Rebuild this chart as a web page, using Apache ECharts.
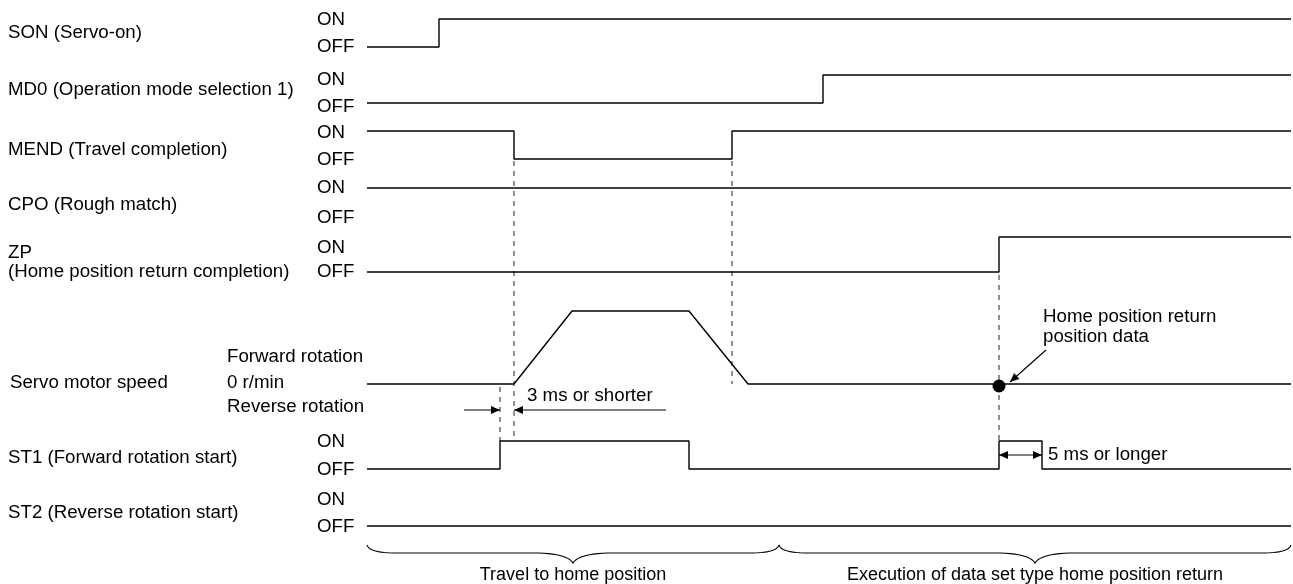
<!DOCTYPE html>
<html><head><meta charset="utf-8">
<script src="https://cdn.jsdelivr.net/npm/echarts@6/dist/echarts.min.js"></script>
<style>html,body{margin:0;padding:0;background:#fff}#c{width:1293px;height:584px}</style>
</head><body><div id="c"></div>
<script>
// ---- data (time in arbitrary units along the timeline, level 0 = OFF / 1 = ON) ----
const T_END = 924;
const rowNames = ['SON (Servo-on)', 'MD0 (Operation mode selection 1)', 'MEND (Travel completion)',
  'CPO (Rough match)', 'ZP\n(Home position return completion)', 'Servo motor speed',
  'ST1 (Forward rotation start)', 'ST2 (Reverse rotation start)'];
const sonData   = [[0, 0], [72, 1], [T_END, 1]];
const md0Data   = [[0, 0], [456, 1], [T_END, 1]];
const mendData  = [[0, 1], [147, 0], [365, 1], [T_END, 1]];
const cpoData   = [[0, 1], [T_END, 1]];
const zpData    = [[0, 0], [632, 1], [T_END, 1]];
const speedData = [[0, 0], [147, 0], [205, 1], [322, 1], [381, 0], [T_END, 0]];
const st1Data   = [[0, 0], [133, 1], [322, 0], [632, 1], [675, 0], [T_END, 0]];
const st2Data   = [[0, 0], [T_END, 0]];
const homePoint = [[632, 0]];
const phaseBounds = [0, 412, T_END];
const phaseLabels = ['Travel to home position', 'Execution of data set type home position return'];
const speedLabels = ['Forward rotation', '0 r/min', 'Reverse rotation'];
const shortLabel = '3 ms or shorter';
const longLabel = '5 ms or longer';
const homeLabel = 'Home position return\nposition data';

// ---- layout ----
const FONT = '18.7px "Liberation Sans", Arial, sans-serif';
const FONT_B = '18px "Liberation Sans", Arial, sans-serif';
const GL = 367, GW = 924;
const rows = [
  {top: 19, h: 28}, {top: 75, h: 28}, {top: 131, h: 28}, {top: 188, h: 28},
  {top: 237, h: 35}, {top: 311, h: 73}, {top: 441, h: 28}, {top: 498, h: 28}
];
const seriesData = [sonData, md0Data, mendData, cpoData, zpData, speedData, st1Data, st2Data];
const nameY = [33, 90, 150, 205, 262, 383, 458, 513];
const onY  = [20, 80, 133, 188, 248, null, 442, 500];
const offY = [47, 107, 160, 218, 272, null, 470, 527];

const chart = echarts.init(document.getElementById('c'));
const option = {
  animation: false,
  grid: rows.map(r => ({left: GL, width: GW, top: r.top, height: r.h})),
  xAxis: rows.map((r, i) => ({type: 'value', gridIndex: i, min: 0, max: T_END, show: false})),
  yAxis: rows.map((r, i) => ({type: 'value', gridIndex: i, min: 0, max: 1, show: false})),
  series: seriesData.map((d, i) => ({
    type: 'line', xAxisIndex: i, yAxisIndex: i, data: d,
    step: i === 5 ? false : 'end', symbol: 'none', clip: false, silent: true,
    lineStyle: {color: '#000', width: 1.4}
  })).concat([{
    type: 'scatter', xAxisIndex: 5, yAxisIndex: 5, data: homePoint, z: 20,
    symbolSize: 13, symbolOffset: [0, 2], itemStyle: {color: '#000', opacity: 1}, silent: true, clip: false
  }])
};
chart.setOption(option);

const P = (row, t, lvl) => chart.convertToPixel({gridIndex: row}, [t, lvl]);
const g = [];
function text(str, x, y, align, font) {
  g.push({type: 'text', silent: true, style: {text: str, x: x, y: y, font: font || FONT, fill: '#000',
    textAlign: align || 'left', textVerticalAlign: 'middle', align: align || 'left', verticalAlign: 'middle', lineHeight: 20}});
}
function line(x1, y1, x2, y2, dash) {
  g.push({type: 'line', silent: true, shape: {x1, y1, x2, y2},
    style: {stroke: dash ? '#222' : '#000', lineWidth: dash ? 1 : 1.2, lineDash: dash ? [5, 5] : null}});
}
function head(tx, ty, dx, dy) {
  const L = 9, W = 4;
  const bx = tx - dx * L, by = ty - dy * L;
  g.push({type: 'polygon', silent: true, shape: {points: [[tx, ty], [bx - dy * W, by + dx * W], [bx + dy * W, by - dx * W]]},
    style: {fill: '#000'}});
}
function quad(pts, p0, c, p1) {
  for (let s = 1; s <= 12; s++) {
    const u = s / 12, v = 1 - u;
    pts.push([v * v * p0[0] + 2 * u * v * c[0] + u * u * p1[0], v * v * p0[1] + 2 * u * v * c[1] + u * u * p1[1]]);
  }
}

// row names
rowNames.forEach((n, i) => {
  if (i === 4) { text('ZP', 8, 253); text('(Home position return completion)', 8, 272); }
  else text(n, i === 5 ? 10 : 8, nameY[i]);
});
// ON / OFF
onY.forEach((y, i) => { if (y !== null) { text('ON', 317, y); text('OFF', 317, offY[i]); } });
// speed level labels
[357, 383, 407].forEach((y, k) => text(speedLabels[k], 227, y));

// dashed guide lines
const guides = [
  {t: 147, a: [2, 0, 2], b: [6, 1, 0]},
  {t: 133, a: [5, 0, 3], b: [6, 1, 0]},
  {t: 365, a: [2, 0, 2], b: [5, 0, 0]},
  {t: 632, a: [4, 0, 3], b: [6, 1, 0]}
];
guides.forEach(gd => {
  const p1 = P(gd.a[0], gd.t, gd.a[1]), p2 = P(gd.b[0], gd.t, gd.b[1]);
  line(p1[0], p1[1] + gd.a[2], p2[0], p2[1], true);
});

// 3 ms or shorter
const sA = P(6, 133, 1), sB = P(6, 147, 1);
const ay = 410;
line(sA[0] - 36, ay, sA[0], ay); head(sA[0], ay, 1, 0);
line(sB[0], ay, sB[0] + 152, ay); head(sB[0], ay, -1, 0);
text(shortLabel, sB[0] + 13, ay - 14);

// 5 ms or longer
const lA = P(6, 632, 0.5), lB = P(6, 675, 0.5);
line(lA[0], lA[1], lB[0], lB[1]); head(lA[0], lA[1], -1, 0); head(lB[0], lB[1], 1, 0);
text(longLabel, lB[0] + 6, lA[1]);

// home position annotation
const hp = P(5, 632, 0);
text(homeLabel, hp[0] + 44, hp[1] - 57);
{
  const x1 = hp[0] + 47, y1 = hp[1] - 34, x2 = hp[0] + 11, y2 = hp[1] - 2;
  const len = Math.hypot(x2 - x1, y2 - y1);
  line(x1, y1, x2, y2); head(x2, y2, (x2 - x1) / len, (y2 - y1) / len);
}

// braces
const bTop = 545, bMid = 553, bTip = 563;
for (let k = 0; k < phaseLabels.length; k++) {
  const x0 = P(7, phaseBounds[k], 0)[0], x1 = P(7, phaseBounds[k + 1], 0)[0];
  const xm = (x0 + x1) / 2;
  const pts = [[x0, bTop]];
  quad(pts, [x0, bTop], [x0 + 2, bMid], [x0 + 30, bMid]);
  pts.push([xm - 40, bMid]);
  quad(pts, [xm - 40, bMid], [xm - 6, bMid], [xm, bTip]);
  quad(pts, [xm, bTip], [xm + 6, bMid], [xm + 40, bMid]);
  pts.push([x1 - 30, bMid]);
  quad(pts, [x1 - 30, bMid], [x1 - 2, bMid], [x1, bTop]);
  g.push({type: 'polyline', silent: true, shape: {points: pts}, style: {stroke: '#000', lineWidth: 1.1, fill: null}});
  text(phaseLabels[k], xm, 575, 'center', FONT_B);
}

chart.setOption({graphic: {elements: g}});
</script>
</body></html>
